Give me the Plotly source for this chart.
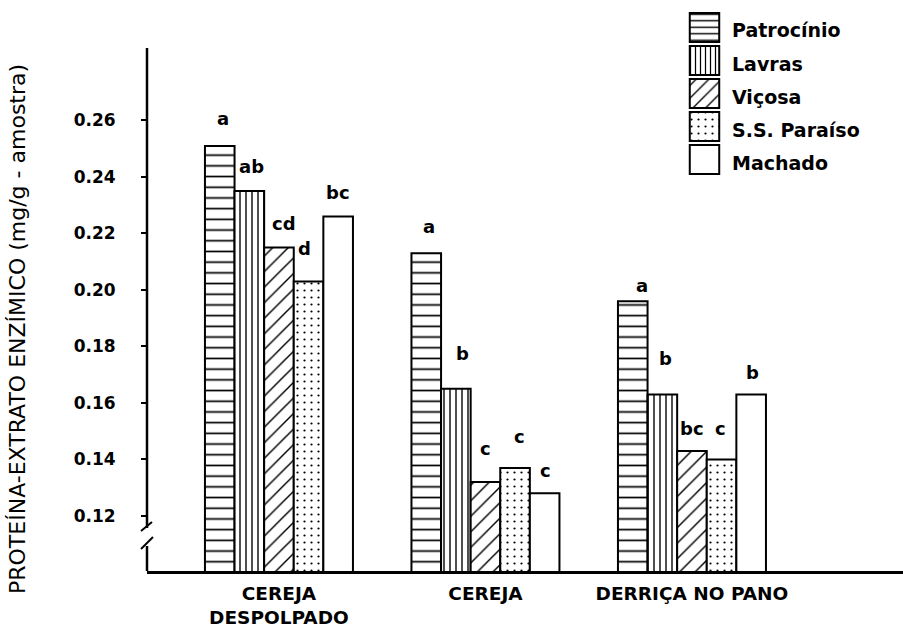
import plotly.graph_objects as go

# ---- data -------------------------------------------------------------
CATEGORIES = ["CEREJA<br>DESPOLPADO", "CEREJA", "DERRIÇA NO PANO"]
SITES = ["Patrocínio", "Lavras", "Viçosa", "S.S. Paraíso", "Machado"]

PATROCINIO = [0.251, 0.213, 0.196]
LAVRAS = [0.235, 0.165, 0.163]
VICOSA = [0.215, 0.132, 0.143]
SS_PARAISO = [0.203, 0.137, 0.140]
MACHADO = [0.226, 0.128, 0.163]

# Tukey letters shown above each bar
LETTERS_PATROCINIO = ["a", "a", "a"]
LETTERS_LAVRAS = ["ab", "b", "b"]
LETTERS_VICOSA = ["cd", "c", "bc"]
LETTERS_SS_PARAISO = ["d", "c", "c"]
LETTERS_MACHADO = ["bc", "c", "b"]

Y_TICKS = [0.12, 0.14, 0.16, 0.18, 0.20, 0.22, 0.24, 0.26]
Y_TICK_LABELS = ["0.12", "0.14", "0.16", "0.18", "0.20", "0.22", "0.24", "0.26"]

Y_TITLE = "PROTEÍNA-EXTRATO ENZÍMICO (mg/g - amostra)"

# ---- styling ------------------------------------------------------------
W, H = 903, 628
M_L, M_R, M_T, M_B = 147, 0, 0, 57
PW, PH = W - M_L - M_R, H - M_T - M_B

FONT = "DejaVu Sans"
BLACK = "black"

# hatch per series: (shape, size, solidity) for bars and for legend swatches
BAR_PATTERNS = [("-", 10.7, 0.16), ("|", 6, 0.23), ("/", 11, 0.13), (".", 7, 0.08), ("", 8, 0.2)]
KEY_PATTERNS = [("-", 6.5, 0.22), ("|", 5, 0.25), ("/", 9, 0.15), (".", 7, 0.08), ("", 8, 0.2)]

# pixel nudges (dx, dy above bar top) for the letters, per series and group
LETTER_NUDGE = [
    [(3, 27), (2.5, 27), (9, 16)],
    [(2, 25), (7, 35), (3, 36)],
    [(5.5, 24), (0, 34), (0.5, 22)],
    [(-4.5, 33), (4.5, 31), (-1, 31)],
    [(0, 24), (0.7, 22.5), (1, 22)],
]

BARGAP = 0.2833
Y_RANGE = [0.1005, 0.30265]
X_RANGE = [-0.639, 3.022]


def px_x(p):
    return (p - M_L) / PW


def px_y(p):
    return (M_T + PH - p) / PH


series = [PATROCINIO, LAVRAS, VICOSA, SS_PARAISO, MACHADO]
letters = [LETTERS_PATROCINIO, LETTERS_LAVRAS, LETTERS_VICOSA,
           LETTERS_SS_PARAISO, LETTERS_MACHADO]

fig = go.Figure()

for name, vals, (shape, size, sol) in zip(SITES, series, BAR_PATTERNS):
    fig.add_trace(go.Bar(
        x=CATEGORIES, y=vals, name=name, showlegend=False,
        marker=dict(
            color="white",
            line=dict(color=BLACK, width=2),
            pattern=dict(shape=shape, size=size, solidity=sol,
                         fgcolor=BLACK, bgcolor="white", fillmode="replace"),
        ),
    ))

# legend key: one patterned swatch per site on a small inset axis pair
for k, (name, (shape, size, sol)) in enumerate(zip(SITES, KEY_PATTERNS)):
    fig.add_trace(go.Bar(
        x=[1], y=[k], base=0, orientation="h", width=0.88, name=name,
        showlegend=False, xaxis="x2", yaxis="y2", hoverinfo="skip",
        marker=dict(
            color="white",
            line=dict(color=BLACK, width=2),
            pattern=dict(shape=shape, size=size, solidity=sol,
                         fgcolor=BLACK, bgcolor="white", fillmode="replace"),
        ),
    ))

annotations = []

# significance letters above the bars
n = len(SITES)
w = (1 - BARGAP) / n
for i, (vals, labs) in enumerate(zip(series, letters)):
    for j, (v, t) in enumerate(zip(vals, labs)):
        dx, dy = LETTER_NUDGE[i][j]
        annotations.append(dict(
            x=j + (i - (n - 1) / 2) * w, y=v, xref="x", yref="y",
            text=t, showarrow=False, xanchor="center", yanchor="middle",
            xshift=dx, yshift=dy,
            font=dict(family=FONT, size=18, color=BLACK, weight="bold"),
        ))

# legend labels
for k, name in enumerate(SITES):
    annotations.append(dict(
        x=1, y=k, xref="x2 domain", yref="y2", text=name, showarrow=False,
        xanchor="left", yanchor="middle", xshift=9, yshift=-3,
        font=dict(family=FONT, size=19, color=BLACK, weight="bold"),
    ))

# rotated y-axis title
annotations.append(dict(
    x=px_x(18), y=px_y(329), xref="paper", yref="paper", text=Y_TITLE,
    textangle=-90, showarrow=False, xanchor="center", yanchor="middle",
    font=dict(family=FONT, size=22, color=BLACK),
))

# y-axis spine with a scale break near the bottom
line = dict(color=BLACK, width=2.5)
shapes = [
    dict(type="line", xref="paper", yref="paper", x0=0, x1=0,
         y0=px_y(48), y1=px_y(528), line=line),
    dict(type="line", xref="paper", yref="paper", x0=0, x1=0,
         y0=px_y(546), y1=px_y(571), line=line),
    dict(type="line", xref="paper", yref="paper", x0=px_x(141), x1=px_x(152),
         y0=px_y(531), y1=px_y(522), line=dict(color=BLACK, width=2)),
    dict(type="line", xref="paper", yref="paper", x0=px_x(141), x1=px_x(153),
         y0=px_y(549), y1=px_y(537), line=dict(color=BLACK, width=2)),
]

fig.update_layout(
    width=W, height=H,
    margin=dict(l=M_L, r=M_R, t=M_T, b=M_B, pad=0, autoexpand=False),
    paper_bgcolor="white", plot_bgcolor="white",
    barmode="group", bargap=BARGAP, bargroupgap=0,
    showlegend=False,
    xaxis=dict(
        range=X_RANGE, showgrid=False, zeroline=False, automargin=False,
        showline=True, linecolor=BLACK, linewidth=3,
        ticks="", ticklabelstandoff=4,
        tickfont=dict(family=FONT, size=18.5, color=BLACK, weight="bold"),
    ),
    yaxis=dict(
        range=Y_RANGE, showgrid=False, zeroline=False, showline=False,
        automargin=False,
        tickvals=Y_TICKS, ticktext=Y_TICK_LABELS,
        ticks="outside", ticklen=5, tickwidth=2, tickcolor=BLACK,
        ticklabelstandoff=22,
        tickfont=dict(family=FONT, size=17, color=BLACK, weight="bold"),
    ),
    xaxis2=dict(domain=[px_x(688), px_x(721)], range=[-0.06, 1.06],
                anchor="y2", visible=False, fixedrange=True),
    yaxis2=dict(domain=[px_y(176), px_y(11)], range=[4.5, -0.5],
                anchor="x2", visible=False, fixedrange=True),
    annotations=annotations,
    shapes=shapes,
)

fig.write_html("out.html")
